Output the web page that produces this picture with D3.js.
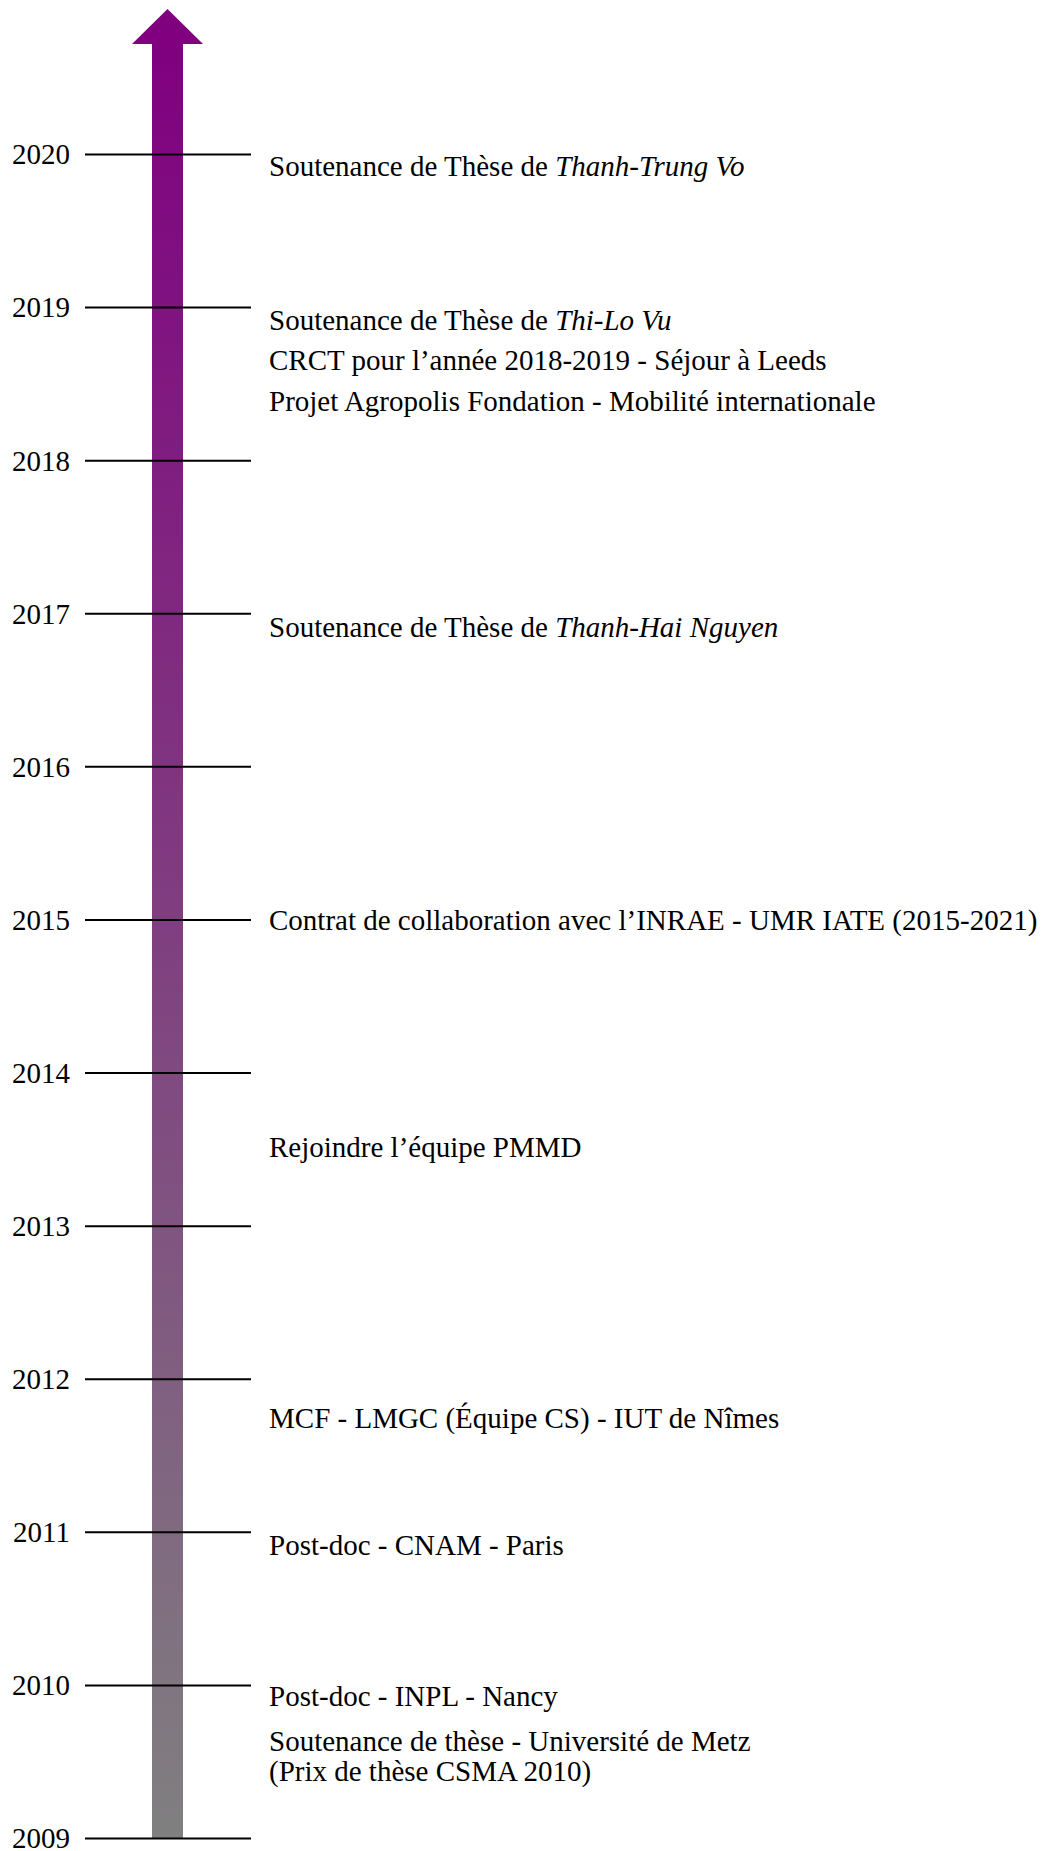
<!DOCTYPE html>
<html>
<head>
<meta charset="utf-8">
<script src="https://cdn.jsdelivr.net/npm/d3@7"></script>
<style>
  html, body { margin: 0; padding: 0; background: #fff; }
</style>
</head>
<body>
<div class="stage"></div>
<script>
var years = [2009, 2010, 2011, 2012, 2013, 2014, 2015, 2016, 2017, 2018, 2019, 2020];

// fractional year of each event, and its text (*...* = italic)
var eventDates = [2019.925, 2018.92, 2018.655, 2018.39, 2016.91, 2015.0, 2013.518, 2011.748, 2010.916, 2009.93, 2009.54];
var eventLines = [
  ["Soutenance de Thèse de *Thanh-Trung Vo*"],
  ["Soutenance de Thèse de *Thi-Lo Vu*"],
  ["CRCT pour l\u2019année 2018-2019 - Séjour à Leeds"],
  ["Projet Agropolis Fondation - Mobilité internationale"],
  ["Soutenance de Thèse de *Thanh-Hai Nguyen*"],
  ["Contrat de collaboration avec l\u2019INRAE - UMR IATE (2015-2021)"],
  ["Rejoindre l\u2019équipe PMMD"],
  ["MCF - LMGC (Équipe CS) - IUT de Nîmes"],
  ["Post-doc - CNAM - Paris"],
  ["Post-doc - INPL - Nancy"],
  ["Soutenance de thèse - Université de Metz", "(Prix de thèse CSMA 2010)"]
];

var width = 1047, height = 1851;
var axisX = 167.5, shaftW = 31, headW = 71, headTop = 9, headBase = 44;
var tickX1 = 85, tickX2 = 251, textX = 269, fontSize = 29, lineH = 30;
var font = "'Liberation Serif', 'Times New Roman', Times, serif";

var y = d3.scaleLinear().domain([2009, 2020]).range([1838.5, 154.5]);

var svg = d3.select(".stage")
  .append("svg")
  .attr("width", width)
  .attr("height", height)
  .style("font-family", font);

var grad = svg.append("defs")
  .append("linearGradient")
  .attr("id", "shaft")
  .attr("gradientUnits", "userSpaceOnUse")
  .attr("x1", 0).attr("y1", headBase)
  .attr("x2", 0).attr("y2", y(2009));
grad.append("stop").attr("offset", 0).attr("stop-color", "#800080");
grad.append("stop").attr("offset", 1).attr("stop-color", "#808080");

svg.append("rect")
  .attr("x", axisX - shaftW/2)
  .attr("y", headBase - 1)
  .attr("width", shaftW)
  .attr("height", y(2009) - headBase + 1)
  .style("fill", "url(#shaft)");

svg.append("path")
  .attr("d", "M" + (axisX - headW/2) + "," + headBase
    + "L" + axisX + "," + headTop
    + "L" + (axisX + headW/2) + "," + headBase + "Z")
  .style("fill", "#800080");

var ticks = svg.selectAll("g.year")
  .data(years)
  .enter().append("g")
  .attr("class", "year")
  .attr("transform", function(d){ return "translate(0," + y(d) + ")" });

ticks.append("line")
  .attr("x1", tickX1).attr("x2", tickX2)
  .attr("y1", 0).attr("y2", 0)
  .style("stroke", "#000")
  .style("stroke-width", 2);

ticks.append("text")
  .attr("x", 70)
  .attr("y", 0)
  .attr("dy", "0.34em")
  .attr("text-anchor", "end")
  .attr("font-family", font)
  .style("font-size", fontSize + "px")
  .text(function(d){ return d });

eventLines.forEach(function(lines, i){
  var cy = y(eventDates[i]);
  lines.forEach(function(line, j){
    var t = svg.append("text")
      .attr("x", textX)
      .attr("y", cy + (j - (lines.length - 1)/2)*lineH)
      .attr("dy", "0.34em")
      .attr("font-family", font)
      .style("font-size", fontSize + "px");
    line.split("*").forEach(function(part, k){
      if (!part) return;
      t.append("tspan")
        .style("font-style", k % 2 ? "italic" : "normal")
        .text(part);
    });
  });
});
</script>
</body>
</html>
